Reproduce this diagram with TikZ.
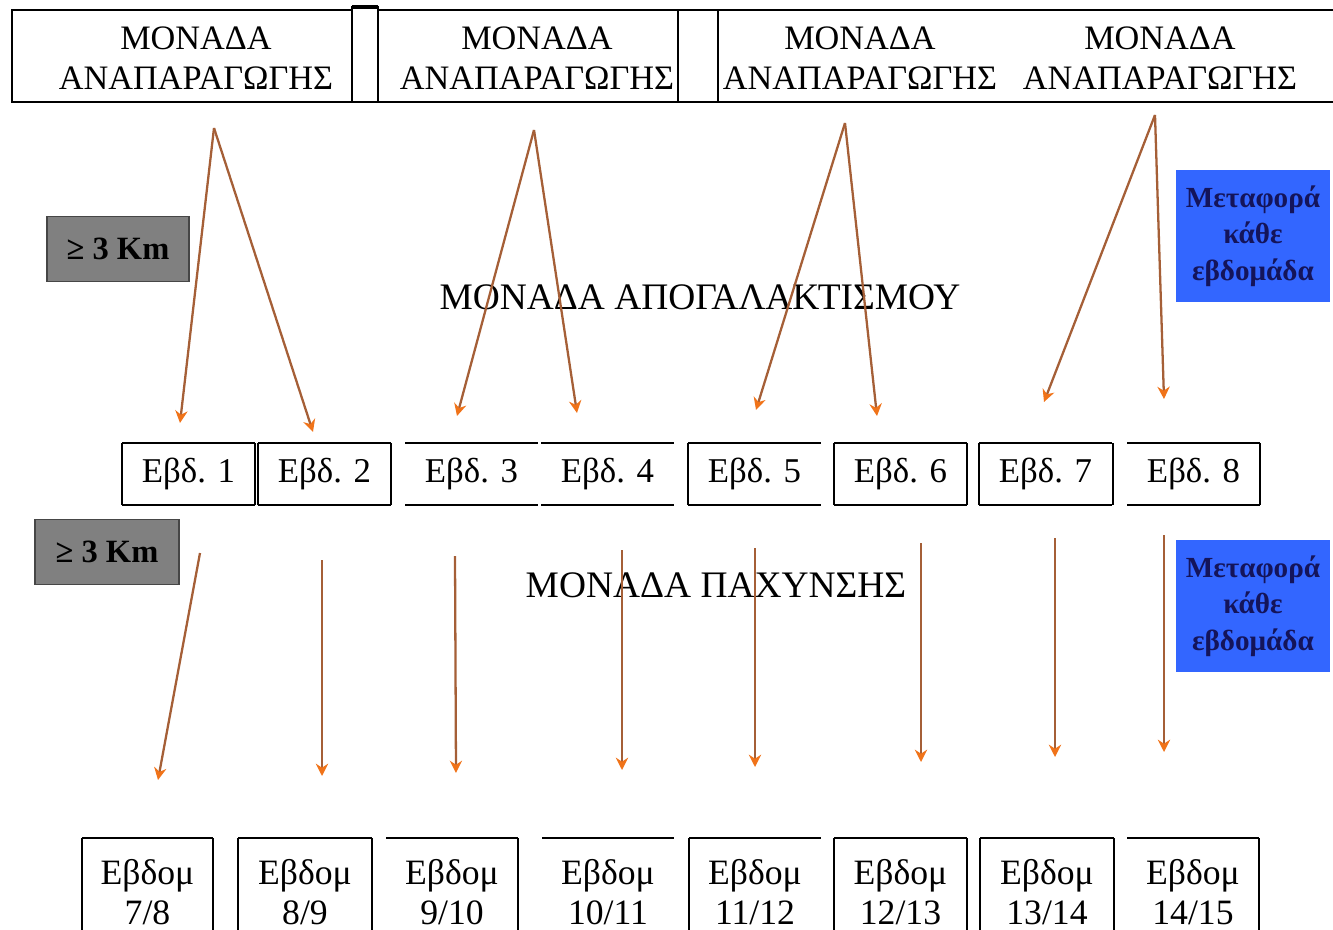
\documentclass[tikz,border=0pt]{standalone}
\usepackage{fontspec}
\setmainfont{Liberation Serif}
\usepackage{xcolor}
\usepackage{tikz}
\usetikzlibrary{arrows.meta, positioning}
\definecolor{farmbrown}{RGB}{165, 95, 55}
\definecolor{farmorange}{RGB}{240, 115, 25}
\definecolor{farmblue}{RGB}{51, 102, 255}
\definecolor{farmgrey}{RGB}{128, 128, 128}
\definecolor{farmnavy}{RGB}{20, 20, 90}

\tikzset{
  edge/.style={line width=1.2pt},
  unittext/.style={align=center, font=\fontsize{19.5}{22.7}\selectfont},
  areatext/.style={font=\fontsize{21.3}{24}\selectfont},
  weektext/.style={align=center, font=\fontsize{19.8}{22.7}\selectfont},
  fattext/.style={align=center, font=\fontsize{20.3}{22.7}\selectfont},
  kmbox/.style={fill=farmgrey, draw=farmgrey!55!black, line width=0.8pt,
    minimum height=1.3cm, font=\bfseries\fontsize{18.5}{19}\selectfont},
  movebox/.style={fill=farmblue, text=farmnavy, align=center,
    minimum width=3.08cm, minimum height=2.66cm,
    font=\bfseries\fontsize{16.6}{20.7}\selectfont},
  flow/.style={farmbrown, line width=1.3pt,
    -{Stealth[length=7pt, width=7pt, color=farmorange]}}
}

\begin{document}
\begin{tikzpicture}[x=0.02cm, y=-0.02cm]
\useasboundingbox (0,0) rectangle (1333,930);

% Reproduction units along the top
\draw[edge] (12,10) rectangle (352,102);
\draw[edge] (352,7) rectangle (378,102);
\draw[line width=2.4pt] (352,7) -- (378,7);
\draw[edge] (378,10) rectangle (678,102);
\draw[edge] (678,10) rectangle (718,102);
\draw[edge] (1345,10) -- (718,10) -- (718,102) -- (1345,102);
\foreach \x/\n in {196/a, 537/b, 860/c, 1160/d}
  \node[unittext] (unit\n) at (\x,58) {ΜΟΝΑΔΑ\\ΑΝΑΠΑΡΑΓΩΓΗΣ};

% Distance and transport labels
\node[kmbox, minimum width=2.84cm] (kmtop) at (118,249) {≥ 3 Km};
\node[kmbox, minimum width=2.88cm] (kmlow) at (107,552) {≥ 3 Km};
\node[movebox] (movetop) at (1253,236) {Μεταφορά\\κάθε\\εβδομάδα};
\node[movebox] (movelow) at (1253,606) {Μεταφορά\\κάθε\\εβδομάδα};

% Unit names
\node[areatext] (weaning) at (700,297) {ΜΟΝΑΔΑ ΑΠΟΓΑΛΑΚΤΙΣΜΟΥ};
\node[areatext] (fattening) at (716,585) {ΜΟΝΑΔΑ ΠΑΧΥΝΣΗΣ};

% Weaning weeks
\foreach \x/\n in {122/1, 258/2, 405/3, 541/4, 688/5, 834/6, 979/7, 1127/8} {
  \draw[edge] (\x,443) -- ++(133,0) (\x,505) -- ++(133,0);
  \node[weektext] (week\n) at (\x+66.5,474) {Εβδ. \n};
}
\foreach \x in {122, 255, 258, 391, 688, 834, 967, 979, 1113, 1260}
  \draw[edge] (\x,443) -- (\x,505);

% Fattening weeks
\foreach \x/\w/\a/\b in {82/131/7/8, 238/134/8/9, 386/132/9/10, 542/132/10/11,
    689/132/11/12, 834/133/12/13, 980/134/13/14, 1127/132/14/15} {
  \draw[edge] (\x,838) -- ++(\w,0);
  \node[fattext] (fat\a) at (\x+\w/2,892) {Εβδομ\\\a/\b};
}
\foreach \x in {82, 213, 238, 372, 518, 689, 834, 967, 980, 1114, 1259}
  \draw[edge] (\x,838) -- (\x,940);

% Transfers to weaning
\coordinate (s1) at (214,128);
\coordinate (s2) at (534,130);
\coordinate (s3) at (845,123);
\coordinate (s4) at (1155,115);
\foreach \i/\x/\y in {1/180/423, 2/313/432, 3/457/416, 4/577/413,
    5/756/410, 6/877/416, 7/1044/402, 8/1164/399}
  \coordinate (e\i) at (\x,\y);
\foreach \s/\e in {s1/e1, s1/e2, s2/e3, s2/e4, s3/e5, s3/e6, s4/e7, s4/e8}
  \draw[flow] (\s) -- (\e);

% Transfers to fattening
\foreach \i/\xa/\ya/\xb/\yb in {1/200/553/158/780, 2/322/560/322/776,
    3/455/556/456/773, 4/622/550/622/770, 5/755/548/755/767,
    6/921/543/921/762, 7/1055/538/1055/757, 8/1164/535/1164/752} {
  \coordinate (p\i) at (\xa,\ya);
  \coordinate (q\i) at (\xb,\yb);
  \draw[flow] (p\i) -- (q\i);
}

\end{tikzpicture}
\end{document}
